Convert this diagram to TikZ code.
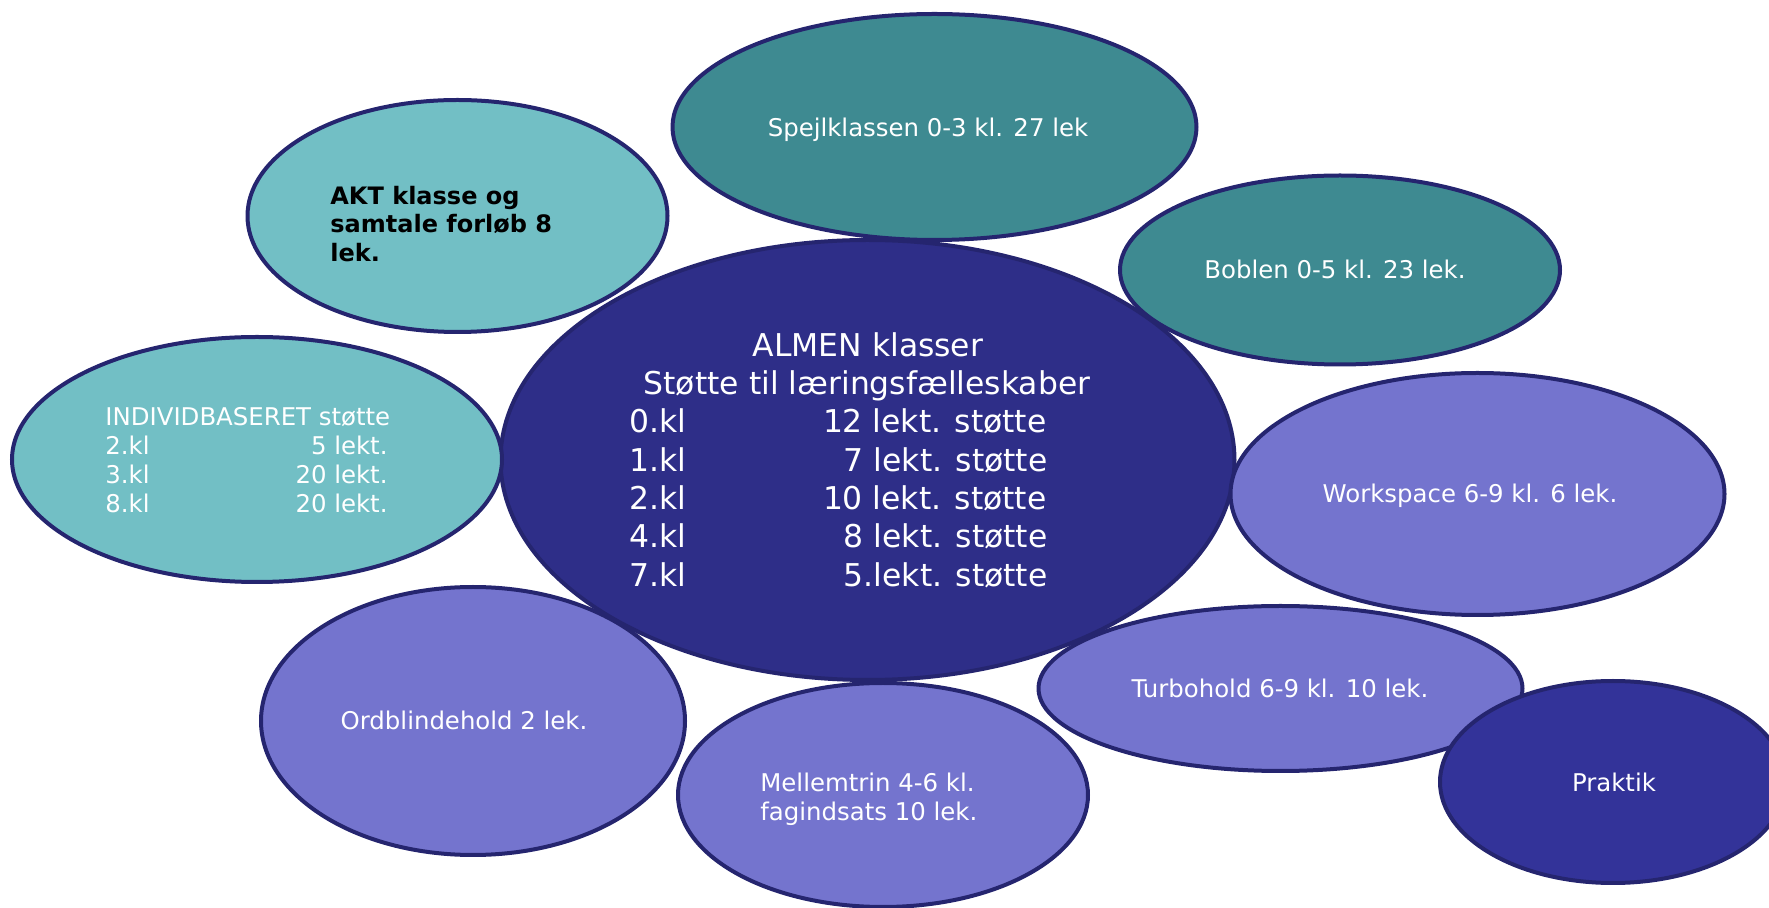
\documentclass[tikz,border=0pt]{standalone}
\usepackage{fontspec}
\setmainfont{DejaVu Sans}
\usetikzlibrary{shapes.geometric}
\definecolor{edgec}{HTML}{25256F}
\definecolor{lteal}{HTML}{72BFC5}
\definecolor{dteal}{HTML}{3E8A91}
\definecolor{navyc}{HTML}{2E2E88}
\definecolor{lavc}{HTML}{7474CE}
\definecolor{prakc}{HTML}{333399}
\tikzset{
  bubble/.style={ellipse, draw=edgec, line width=2pt, inner sep=0pt, outer sep=0pt},
  txt/.style={inner sep=0pt, text=white, font=\fontsize{12.2}{14.6}\selectfont},
  bold/.style={inner sep=0pt, text=black, font=\fontsize{12}{14.4}\selectfont\bfseries},
  big/.style={inner sep=0pt, text=white, font=\fontsize{15.7}{19}\selectfont},
}
\begin{document}
\begin{tikzpicture}[x=0.5pt,y=-0.5pt]
\useasboundingbox (0,0) rectangle (1769,908);
% bubbles
\node[bubble, fill=navyc, minimum width=367pt, minimum height=220pt] (almen) at (867.5,460) {};
\node[bubble, fill=dteal, minimum width=262pt, minimum height=113pt] (spejl) at (934.5,127) {};
\node[bubble, fill=dteal, minimum width=220pt, minimum height=94.5pt] (boblen) at (1340,270) {};
\node[bubble, fill=lteal, minimum width=210pt, minimum height=116pt] (akt) at (457.5,216) {};
\node[bubble, fill=lteal, minimum width=245pt, minimum height=122.5pt] (indiv) at (257,459.5) {};
\node[bubble, fill=lavc, minimum width=247pt, minimum height=121pt] (work) at (1477.5,494) {};
\node[bubble, fill=lavc, minimum width=212pt, minimum height=134pt] (ord) at (473,721) {};
\node[bubble, fill=lavc, minimum width=205pt, minimum height=112pt] (mellem) at (883,795) {};
\node[bubble, fill=lavc, minimum width=242pt, minimum height=82.5pt] (turbo) at (1280.5,688.5) {};
\node[bubble, fill=prakc, minimum width=173pt, minimum height=101pt] (praktik) at (1613,782) {};
% simple labels
\node[txt, anchor=base] (tspejl) at (928,137) {Spejlklassen 0-3 kl. 27 lek};
\node[txt, anchor=base] (tboblen) at (1335,279) {Boblen 0-5 kl. 23 lek.};
\node[txt, anchor=base] (twork) at (1470,503) {Workspace 6-9 kl. 6 lek.};
\node[txt, anchor=base] (tturbo) at (1280,698) {Turbohold 6-9 kl. 10 lek.};
\node[txt, anchor=base] (tord) at (464,730) {Ordblindehold 2 lek.};
\node[txt, anchor=base] (tprak) at (1614,792) {Praktik};
\node[txt, anchor=base west] (tmel1) at (760,792) {Mellemtrin 4-6 kl.};
\node[txt, anchor=base west] (tmel2) at (760,821) {fagindsats 10 lek.};
% AKT
\node[bold, anchor=base west] (takt1) at (330,205) {AKT klasse og};
\node[bold, anchor=base west] (takt2) at (330,233) {samtale forløb 8};
\node[bold, anchor=base west] (takt3) at (330,262) {lek.};
% INDIVIDBASERET
\node[txt, anchor=base west] (tind0) at (105,426) {INDIVIDBASERET støtte};
\node[txt, anchor=base west] (tind1a) at (105,455) {2.kl};
\node[txt, anchor=base east] (tind1b) at (388,455) {5 lekt.};
\node[txt, anchor=base west] (tind2a) at (105,484) {3.kl};
\node[txt, anchor=base east] (tind2b) at (388,484) {20 lekt.};
\node[txt, anchor=base west] (tind3a) at (105,513) {8.kl};
\node[txt, anchor=base east] (tind3b) at (388,513) {20 lekt.};
% ALMEN
\node[big, anchor=base] (tal1) at (868,357) {ALMEN klasser};
\node[big, anchor=base] (tal2) at (867,395) {Støtte til læringsfælleskaber};
\node[big, anchor=base west] (tr1a) at (629,433) {0.kl};
\node[big, anchor=base east] (tr1b) at (1047,433) {12 lekt. støtte};
\node[big, anchor=base west] (tr2a) at (629,472) {1.kl};
\node[big, anchor=base east] (tr2b) at (1048,472) {7 lekt. støtte};
\node[big, anchor=base west] (tr3a) at (629,510) {2.kl};
\node[big, anchor=base east] (tr3b) at (1047,510) {10 lekt. støtte};
\node[big, anchor=base west] (tr4a) at (629,548) {4.kl};
\node[big, anchor=base east] (tr4b) at (1048,548) {8 lekt. støtte};
\node[big, anchor=base west] (tr5a) at (629,587) {7.kl};
\node[big, anchor=base east] (tr5b) at (1048,587) {5.lekt. støtte};
\end{tikzpicture}
\end{document}
